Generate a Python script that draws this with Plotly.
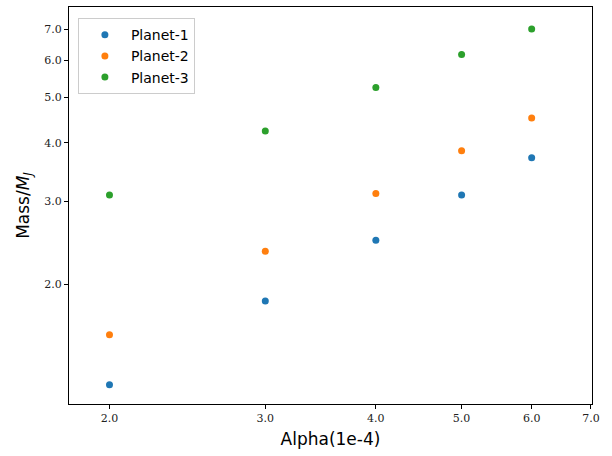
import plotly.graph_objects as go
import numpy as np

alpha = [2, 3, 4, 5, 6]
planet1 = [1.22, 1.84, 2.48, 3.10, 3.72]
planet2 = [1.56, 2.35, 3.12, 3.85, 4.52]
planet3 = [3.10, 4.24, 5.25, 6.18, 7.00]
names = ["Planet-1", "Planet-2", "Planet-3"]
colors = ["#1f77b4", "#ff7f0e", "#2ca02c"]
xticks = [2, 3, 4, 5, 6, 7]
yticks = [2, 3, 4, 5, 6, 7]

fig = go.Figure()
for name, vals, c in zip(names, [planet1, planet2, planet3], colors):
    fig.add_trace(go.Scatter(x=alpha, y=vals, mode="markers", name=name,
                             marker=dict(color=c, size=7, line=dict(width=0))))

tickfont = dict(family="DejaVu Serif", size=11, color="#222")
fig.update_layout(
    width=612, height=456,
    margin=dict(l=69, r=20, t=7, b=52),
    plot_bgcolor="white", paper_bgcolor="white",
    showlegend=True,
    legend=dict(x=0.017, y=0.972, xanchor="left", yanchor="top",
                bordercolor="#cccccc", borderwidth=1, bgcolor="white",
                font=dict(family="DejaVu Sans", size=14, color="black"),
                itemsizing="trace", itemwidth=42, tracegroupgap=3),
    xaxis=dict(type="log", range=[np.log10(1.8), np.log10(7.02)],
               tickvals=xticks, ticktext=[f"{v:.1f}" for v in xticks],
               showgrid=False, zeroline=False, showline=True, linecolor="black",
               linewidth=1, mirror=True, ticks="outside", ticklen=4,
               tickcolor="black", tickfont=tickfont,
               title=dict(text="Alpha(1e-4)", font=dict(family="DejaVu Sans", size=17, color="black"),
                          standoff=8)),
    yaxis=dict(type="log", range=[np.log10(1.11), np.log10(7.8)],
               tickvals=yticks, ticktext=[f"{v:.1f}" for v in yticks],
               showgrid=False, zeroline=False, showline=True, linecolor="black",
               linewidth=1, mirror=True, ticks="outside", ticklen=4,
               tickcolor="black", tickfont=tickfont,
               title=dict(text="Mass/<i>M<sub>J</sub></i>", font=dict(family="DejaVu Sans", size=17, color="black"),
                          standoff=10)),
)
fig.write_html("out.html")
